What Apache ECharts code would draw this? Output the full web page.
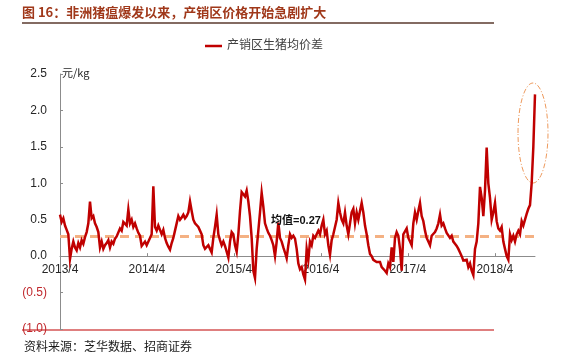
<!DOCTYPE html>
<html>
<head>
<meta charset="utf-8">
<script src="https://cdn.jsdelivr.net/npm/echarts@6/dist/echarts.min.js"></script>
<style>
html,body{margin:0;padding:0;background:#fff;}
#c{width:574px;height:359px;}
</style>
</head>
<body>
<div id="c"></div>
<script>
// ---- data ----
const titleText = '图 16：非洲猪瘟爆发以来，产销区价格开始急剧扩大';
const sourceText = '资料来源：芝华数据、招商证券';
const seriesName = '产销区生猪均价差';
const unitText = '元/kg';
const startDate = '2013-04-01';          // first weekly observation
const stepDays = 7;                      // weekly data
const tickDates = ['2013-04-01','2014-04-01','2015-04-01','2016-04-01','2017-04-01','2018-04-01'];
const tickLabels = ['2013/4','2014/4','2015/4','2016/4','2017/4','2018/4'];
const yMin = -1.0, yMax = 2.5, yStep = 0.5;
const meanValue = 0.27;
const meanLabel = '均值=0.27';
// weekly spread (元/kg)
const spread = [
0.57,0.47,0.52,0.42,0.36,0.30,-0.04,0.10,0.20,0.12,
0.08,0.18,0.12,0.22,0.17,0.26,0.33,0.45,0.75,0.52,
0.55,0.45,0.40,0.33,0.12,0.20,0.10,0.15,0.18,0.22,
0.12,0.20,0.17,0.24,0.27,0.25,0.38,0.35,0.47,0.45,
0.42,0.64,0.45,0.50,0.40,0.45,0.38,0.32,0.28,0.14,
0.14,0.20,0.15,0.16,0.25,0.30,0.96,0.40,0.35,0.42,
0.36,0.30,0.36,0.25,0.18,0.13,0.09,0.18,0.25,0.35,
0.45,0.55,0.50,0.53,0.57,0.52,0.55,0.60,0.75,0.62,
0.50,0.45,0.45,0.40,0.35,0.30,0.15,0.10,0.10,0.15,
0.10,0.05,0.25,0.40,0.57,0.30,0.22,0.15,0.20,0.14,
0.06,-0.02,0.20,0.33,0.30,0.15,0.06,0.30,0.62,0.88,
0.85,0.82,0.90,0.75,0.55,0.25,-0.20,-0.30,0.10,0.35,
0.60,0.87,0.68,0.45,0.38,0.32,0.28,0.22,0.15,0.00,
0.20,0.46,0.25,0.20,0.12,0.05,-0.03,0.15,0.30,0.25,
0.28,0.24,0.10,-0.10,-0.18,-0.15,-0.25,-0.32,0.10,-0.05,
0.20,0.15,0.28,0.25,0.30,0.35,0.30,0.42,0.50,0.30,
0.35,0.15,0.02,0.22,0.30,0.40,0.50,0.73,0.60,0.50,
0.45,0.60,0.42,0.30,0.45,0.60,0.65,0.45,0.60,0.50,
0.62,0.73,0.60,0.42,0.30,0.15,0.03,0.00,-0.05,-0.03,
-0.08,-0.10,-0.08,-0.15,-0.17,-0.20,-0.23,-0.10,-0.15,0.12,
-0.08,0.25,0.33,0.28,0.10,-0.20,0.30,0.28,0.38,0.25,
0.20,0.15,0.45,0.60,0.50,0.62,0.73,0.55,0.48,0.35,
0.25,0.20,0.15,0.28,0.30,0.33,0.38,0.45,0.57,0.42,
0.45,0.38,0.32,0.30,0.25,0.28,0.20,0.17,0.14,0.10,
0.05,0.00,-0.06,-0.08,-0.05,-0.15,-0.10,-0.20,-0.26,0.10,
0.20,0.45,0.95,0.80,0.55,0.90,1.49,1.00,0.80,0.50,
0.60,0.73,0.48,0.38,0.35,0.40,0.20,0.10,0.00,-0.05,
0.30,0.22,0.28,0.20,0.30,0.35,0.30,0.48,0.42,0.50,
0.58,0.65,0.70,1.00,1.50,2.22
];

// ---- build ----
const DAY = 86400000;
const t0 = Date.parse(startDate + 'T00:00:00Z');
const dayOf = d => Math.round((Date.parse(d + 'T00:00:00Z') - t0) / DAY);
const tickDays = tickDates.map(dayOf);
const points = spread.map((v, i) => [i * stepDays, v]);
const lastDay = (spread.length - 1) * stepDays;

const gridTop = 74, gridBottom = 30, H = 359;
const gridH = H - gridTop - gridBottom;
// move the x axis up to the y = 0 level
const zeroOffset = -gridH * (0 - yMin) / (yMax - yMin);

const chart = echarts.init(document.getElementById('c'), null, {renderer: 'canvas'});
const latin = '"Liberation Sans", Arial, sans-serif';
const cjk = '"Liberation Sans", "Noto Sans CJK SC", sans-serif';

chart.setOption({
  animation: false,
  backgroundColor: '#ffffff',
  grid: {left: 60, right: 39, top: gridTop, bottom: gridBottom, containLabel: false},
  legend: {
    data: [seriesName],
    left: 205, top: 40, padding: 0,
    icon: 'rect', itemWidth: 17, itemHeight: 2.5, itemGap: 4,
    textStyle: {fontFamily: cjk, fontSize: 12, color: '#404040'}
  },
  xAxis: {
    type: 'value', min: 0, max: lastDay, position: 'bottom', offset: zeroOffset,
    axisLine: {onZero: false, lineStyle: {color: '#8c8c8c', width: 1}},
    axisTick: {show: true, inside: true, length: 3, customValues: tickDays, lineStyle: {color: '#8c8c8c'}},
    axisLabel: {
      customValues: tickDays, margin: 8,
      fontFamily: latin, fontSize: 12, color: '#262626',
      formatter: v => { const k = tickDays.indexOf(v); return k >= 0 ? tickLabels[k] : ''; }
    },
    splitLine: {show: false}
  },
  yAxis: {
    type: 'value', min: yMin, max: yMax, interval: yStep,
    axisLine: {show: true, onZero: false, lineStyle: {color: '#8c8c8c', width: 1}},
    axisTick: {show: true, inside: true, length: 3, lineStyle: {color: '#8c8c8c'}},
    axisLabel: {
      margin: 13, fontFamily: latin, fontSize: 12, color: '#262626',
      formatter: v => v < 0 ? '{neg|(' + Math.abs(v).toFixed(1) + ')}' : v.toFixed(1),
      rich: {neg: {color: '#C0282D', fontFamily: latin, fontSize: 12}}
    },
    splitLine: {show: false}
  },
  series: [
    {
      name: 'mean', type: 'line', z: 1, silent: true,
      data: [[0, meanValue], [lastDay, meanValue]],
      symbol: 'none',
      lineStyle: {color: '#F4B183', width: 3, type: [9, 6]},
      markPoint: {
        symbol: 'circle', symbolSize: 0,
        data: [{coord: [991, 0.487], value: meanLabel}],
        label: {show: true, formatter: meanLabel, position: 'inside',
          fontFamily: cjk, fontSize: 11, fontWeight: 'bold', color: '#111'}
      }
    },
    {
      name: seriesName, type: 'line', z: 3,
      data: points, symbol: 'none', showSymbol: false,
      lineStyle: {color: '#C00000', width: 2.5, join: 'miter'},
      itemStyle: {color: '#C00000'}
    }
  ],
  graphic: [
    {type: 'text', left: 22, top: 6,
      style: {text: titleText, font: 'bold 13px "Noto Sans CJK SC", sans-serif', fill: '#A0381A'}},
    {type: 'line', shape: {x1: 22, y1: 23, x2: 494, y2: 23},
      style: {stroke: '#5a3a2e', lineWidth: 1.5}},
    {type: 'text', left: 62, top: 67,
      style: {text: unitText, font: '11px "Noto Sans CJK SC", sans-serif', fill: '#262626'}},
    {type: 'ellipse', shape: {cx: 533, cy: 133, rx: 15, ry: 50},
      style: {fill: 'none', stroke: '#EE9A5D', lineWidth: 1, lineDash: [5, 2, 1, 2]}},
    {type: 'line', shape: {x1: 22, y1: 330, x2: 494, y2: 330},
      style: {stroke: '#C00000', lineWidth: 1.2}},
    {type: 'text', left: 24, top: 340,
      style: {text: sourceText, font: '12px "Noto Sans CJK SC", sans-serif', fill: '#1a1a1a'}}
  ]
});
</script>
</body>
</html>
